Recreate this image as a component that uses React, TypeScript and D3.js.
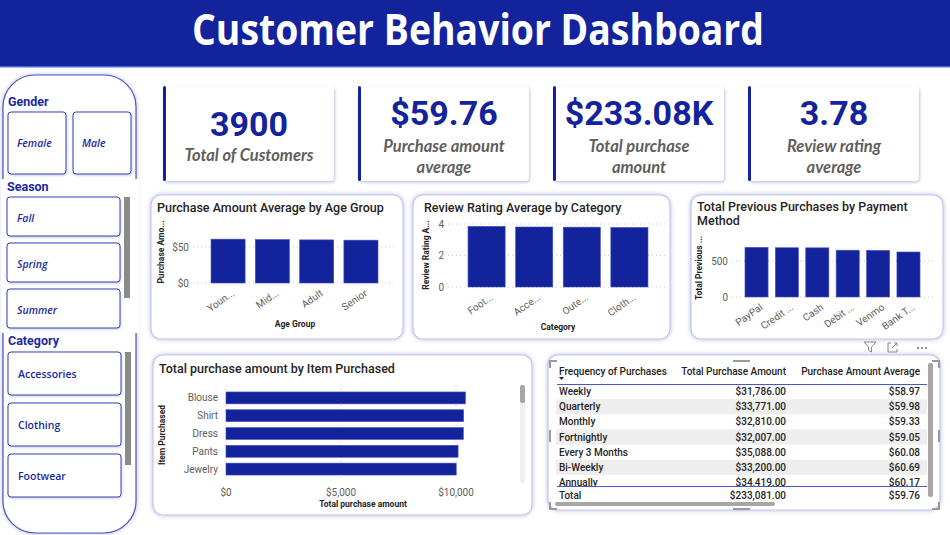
import React from "react";
import * as d3 from "d3";

const W = 950;
const H = 535;
const BLUE = "#13239c";
const SLICER_BLUE = "#1b2a9f";
const TEXT = "#252423";
const GREY = "#605e5c";
const DIN = "Roboto, 'DejaVu Sans', sans-serif";

// KPI cards
const kpiValues = [3900, 59.76, 233081, 3.78];
const kpiLabels = [
  ["Total of Customers"],
  ["Purchase amount", "average"],
  ["Total purchase", "amount"],
  ["Review rating", "average"],
];

// slicers
const genders = ["Female", "Male"];
const seasons = ["Fall", "Spring", "Summer"];
const categories = ["Accessories", "Clothing", "Footwear"];

// purchase amount average by age group
const ageGroups = ["Young Adult", "Middle-aged", "Adult", "Senior"];
const ageTickLabels = ["Youn...", "Mid...", "Adult", "Senior"];
const ageAvg = [60.9, 60.4, 59.9, 59.5];

// review rating average by category
const ratingCats = ["Footwear", "Accessories", "Outerwear", "Clothing"];
const ratingTickLabels = ["Foot...", "Acce...", "Oute...", "Cloth..."];
const ratingAvg = [3.85, 3.81, 3.8, 3.78];

// previous purchases by payment method
const payMethods = ["PayPal", "Credit Card", "Cash", "Debit Card", "Venmo", "Bank Transfer"];
const payTickLabels = ["PayPal", "Credit ...", "Cash", "Debit ...", "Venmo", "Bank T..."];
const payPrev = [690, 684, 683, 650, 648, 625];

// purchase amount by item
const items = ["Blouse", "Shirt", "Dress", "Pants", "Jewelry"];
const itemTotals = [10410, 10332, 10320, 10090, 10010];

// frequency table
const freqLabels = ["Weekly", "Quarterly", "Monthly", "Fortnightly", "Every 3 Months", "Bi-Weekly", "Annually"];
const freqTotal = [31786, 33771, 32810, 32007, 35088, 33200, 34419];
const freqAvg = [58.97, 59.98, 59.33, 59.05, 60.08, 60.69, 60.17];
const freqGrandTotal = 233081;
const freqGrandAvg = 59.76;

const money2 = d3.format("$,.2f");

function kpiText(i: number) {
  const v = kpiValues[i];
  if (i === 0) return String(v);
  if (i === 1) return "$" + v.toFixed(2);
  if (i === 2) return "$" + (v / 1000).toFixed(2) + "K";
  return v.toFixed(2);
}

function Panel({ x, y, w, h }: { x: number; y: number; w: number; h: number }) {
  return (
    <rect x={x} y={y} width={w} height={h} rx={10} fill="#fff" stroke="#c3c6ec" strokeWidth={1.2} filter="url(#glow)" />
  );
}

function VBarChart({
  title,
  titleLines,
  cats,
  labels,
  values,
  x,
  y,
  ticks,
  fmt,
  yTitle,
  yTitleX,
  yTitleY,
  xTitle,
  xTitleX,
  xTitleY,
  gridX0,
  gridX1,
  labelY,
}: any) {
  return (
    <g>
      {titleLines.map((t: string, i: number) => (
        <text key={t} x={title.x} y={title.y + i * 14} fontFamily={DIN} fontWeight={500} fontSize={12.5} fill={TEXT}>
          {t}
        </text>
      ))}
      {ticks.map((t: number) => (
        <g key={t}>
          <line x1={gridX0} x2={gridX1} y1={y(t)} y2={y(t)} stroke="#c8c6c4" strokeDasharray="1 3" />
          <text x={gridX0 - 4} y={y(t)} dy="0.35em" textAnchor="end" fontFamily={DIN} fontSize={10} fill={GREY}>
            {fmt(t)}
          </text>
        </g>
      ))}
      {cats.map((c: string, i: number) => (
        <rect key={c} x={x(c)} y={y(values[i])} width={x.bandwidth()} height={y(0) - y(values[i])} fill={BLUE} stroke="#4452c0" strokeWidth={0.6} />
      ))}
      {cats.map((c: string, i: number) => (
        <text
          key={c + "l"}
          transform={`translate(${x(c) + x.bandwidth() / 2 + 3},${labelY}) rotate(-35)`}
          dy="0.7em"
          textAnchor="end"
          fontFamily={DIN}
          fontSize={10}
          fill={GREY}
        >
          {labels[i]}
        </text>
      ))}
      <text transform={`translate(${yTitleX},${yTitleY}) rotate(-90)`} textAnchor="middle" fontFamily={DIN} fontWeight={700} fontSize={8.5} fill={TEXT}>
        {yTitle}
      </text>
      {xTitle && (
        <text x={xTitleX} y={xTitleY} textAnchor="middle" fontFamily={DIN} fontWeight={700} fontSize={8.5} fill={TEXT}>
          {xTitle}
        </text>
      )}
    </g>
  );
}

export default function App() {
  const xAge = d3.scaleBand().domain(ageGroups).range([205.7, 383.3]).paddingInner(0.23).paddingOuter(0.12);
  const yAge = d3.scaleLinear().domain([0, 50]).range([283, 247]);

  const xRate = d3.scaleBand().domain(ratingCats).range([458.5, 657.5]).paddingInner(0.22).paddingOuter(0.2);
  const yRate = d3.scaleLinear().domain([0, 4]).range([287, 224]);

  const xPay = d3.scaleBand().domain(payMethods).range([738.9, 926.1]).paddingInner(0.24).paddingOuter(0.2);
  const yPay = d3.scaleLinear().domain([0, 500]).range([297, 261]);

  const yItem = d3.scaleBand().domain(items).range([388.4, 478.6]).paddingInner(0.33).paddingOuter(0.2);
  const xItem = d3.scaleLinear().domain([0, 10000]).range([226, 456]);
  const itemTicks = [0, 5000, 10000];

  const rowY = d3.scaleBand().domain(freqLabels).range([384, 490]);
  const rowMid = (f: string) => (rowY(f) as number) + rowY.bandwidth() / 2;

  const cardX = [163, 358, 553, 748];

  return (
    <div style={{ position: "fixed", left: 0, top: 0 }}>
      <svg width={W} height={H} style={{ display: "block", background: "#fff" }}>
        <defs>
          <filter id="glow" x="-10%" y="-10%" width="120%" height="120%">
            <feDropShadow dx={0} dy={0} stdDeviation={2} floodColor="#5c63c8" floodOpacity={0.45} />
          </filter>
          <filter id="cardShadow" x="-10%" y="-10%" width="120%" height="130%">
            <feDropShadow dx={1} dy={1.5} stdDeviation={1.5} floodColor="#7078c0" floodOpacity={0.45} />
          </filter>
          <filter id="boxShadow" x="-10%" y="-10%" width="120%" height="130%">
            <feDropShadow dx={0.5} dy={1} stdDeviation={0.8} floodColor="#7078c0" floodOpacity={0.4} />
          </filter>
          <clipPath id="tableBody">
            <rect x={550} y={384} width={380} height={102} />
          </clipPath>
        </defs>

        {/* header band */}
        <rect x={0} y={0} width={W} height={66} fill={BLUE} />
        <rect x={0} y={66} width={W} height={1.5} fill="#4a6ad8" />
        <text
          x={478}
          y={45}
          textAnchor="middle"
          fontFamily="'Open Sans', sans-serif"
          fontWeight={700}
          fontSize={43}
          textLength={572}
          lengthAdjust="spacingAndGlyphs"
          fill="#fff"
        >
          Customer Behavior Dashboard
        </text>

        {/* slicer column */}
        <rect x={3} y={75} width={133} height={458} rx={32} fill="#fff" stroke="#4a52c8" strokeWidth={1.2} filter="url(#glow)" />
        <rect x={1} y={179} width={138} height={154} fill="#fff" />
        <text x={8} y={106} fontFamily={DIN} fontWeight={700} fontSize={12.5} fill={SLICER_BLUE}>
          Gender
        </text>
        {genders.map((g, i) => (
          <g key={g}>
            <rect x={8 + i * 65} y={112} width={58} height={62} rx={3} fill="#fff" stroke="#3442b4" strokeWidth={1} filter="url(#boxShadow)" />
            <text x={17 + i * 65} y={147} fontFamily="'Open Sans', sans-serif" fontStyle="italic" fontWeight={600} fontSize={10.5} fill={SLICER_BLUE}>
              {g}
            </text>
          </g>
        ))}
        <text x={7} y={191} fontFamily={DIN} fontWeight={700} fontSize={12.5} fill={SLICER_BLUE}>
          Season
        </text>
        {seasons.map((s, i) => (
          <g key={s}>
            <rect x={7} y={197 + i * 46} width={113} height={39} rx={3} fill="#fff" stroke="#3442b4" strokeWidth={1} filter="url(#boxShadow)" />
            <text x={17} y={222 + i * 46} fontFamily="'Open Sans', sans-serif" fontStyle="italic" fontWeight={600} fontSize={10.5} fill={SLICER_BLUE}>
              {s}
            </text>
          </g>
        ))}
        <rect x={124} y={197} width={6} height={101} fill="#8a8a8a" />
        <text x={8} y={345} fontFamily={DIN} fontWeight={700} fontSize={12.5} fill={SLICER_BLUE}>
          Category
        </text>
        {categories.map((c, i) => (
          <g key={c}>
            <rect x={8} y={352 + i * 51} width={113} height={43} rx={3} fill="#fff" stroke="#3442b4" strokeWidth={1} filter="url(#boxShadow)" />
            <text x={18} y={378 + i * 51} fontFamily="'Open Sans', sans-serif" fontWeight={600} fontSize={10.5} fill={SLICER_BLUE}>
              {c}
            </text>
          </g>
        ))}
        <rect x={125} y={352} width={6} height={113} fill="#8a8a8a" />

        {/* KPI cards */}
        {cardX.map((cx, i) => {
          const two = kpiLabels[i].length > 1;
          const mid = cx + 86;
          return (
            <g key={i}>
              <rect x={cx} y={86} width={171} height={95} rx={4} fill="#fff" filter="url(#cardShadow)" />
              <rect x={cx} y={86} width={3} height={95} rx={1.5} fill={BLUE} />
              <text x={mid} y={two ? 125 : 136} textAnchor="middle" fontFamily={DIN} fontWeight={700} fontSize={34} fill={BLUE}>
                {kpiText(i)}
              </text>
              {kpiLabels[i].map((l, j) => (
                <text
                  key={l}
                  x={mid}
                  y={(two ? 152 : 161) + j * 21}
                  textAnchor="middle"
                  fontFamily="Lato, sans-serif"
                  fontStyle="italic"
                  fontWeight={700}
                  fontSize={16.5}
                  fill={GREY}
                >
                  {l}
                </text>
              ))}
            </g>
          );
        })}

        {/* column charts */}
        <Panel x={151} y={195} w={252} h={144} />
        <VBarChart
          title={{ x: 157, y: 212 }}
          titleLines={["Purchase Amount Average by Age Group"]}
          cats={ageGroups}
          labels={ageTickLabels}
          values={ageAvg}
          x={xAge}
          y={yAge}
          ticks={[0, 50]}
          fmt={(t: number) => "$" + t}
          yTitle="Purchase Amo..."
          yTitleX={164}
          yTitleY={252}
          xTitle="Age Group"
          xTitleX={295}
          xTitleY={327}
          gridX0={193}
          gridX1={397}
          labelY={289}
        />

        <Panel x={413} y={195} w={257} h={144} />
        <VBarChart
          title={{ x: 424, y: 212 }}
          titleLines={["Review Rating Average by Category"]}
          cats={ratingCats}
          labels={ratingTickLabels}
          values={ratingAvg}
          x={xRate}
          y={yRate}
          ticks={[0, 2, 4]}
          fmt={(t: number) => String(t)}
          yTitle="Review Rating A..."
          yTitleX={429}
          yTitleY={255}
          xTitle="Category"
          xTitleX={558}
          xTitleY={330}
          gridX0={448}
          gridX1={668}
          labelY={293}
        />

        <Panel x={691} y={195} w={252} h={144} />
        <VBarChart
          title={{ x: 697, y: 211 }}
          titleLines={["Total Previous Purchases by Payment", "Method"]}
          cats={payMethods}
          labels={payTickLabels}
          values={payPrev}
          x={xPay}
          y={yPay}
          ticks={[0, 500]}
          fmt={(t: number) => String(t)}
          yTitle="Total Previous ..."
          yTitleX={702}
          yTitleY={268}
          xTitle={null}
          gridX0={732}
          gridX1={933}
          labelY={303}
        />

        {/* bar chart by item */}
        <Panel x={153} y={355} w={379} h={160} />
        <text x={159} y={373} fontFamily={DIN} fontWeight={500} fontSize={12.5} fill={TEXT}>
          Total purchase amount by Item Purchased
        </text>
        {itemTicks.map((t) => (
          <g key={t}>
            <line x1={xItem(t)} x2={xItem(t)} y1={385} y2={479} stroke="#c8c6c4" strokeDasharray="1 3" />
            <text x={xItem(t)} y={496} textAnchor="middle" fontFamily={DIN} fontSize={10} fill={GREY}>
              {d3.format("$,")(t)}
            </text>
          </g>
        ))}
        {items.map((it, i) => (
          <g key={it}>
            <rect x={xItem(0)} y={yItem(it)} width={xItem(itemTotals[i]) - xItem(0)} height={yItem.bandwidth()} fill={BLUE} stroke="#4452c0" strokeWidth={0.6} />
            <text x={218} y={(yItem(it) as number) + yItem.bandwidth() / 2} dy="0.35em" textAnchor="end" fontFamily={DIN} fontSize={10} fill={GREY}>
              {it}
            </text>
          </g>
        ))}
        <text x={363} y={507} textAnchor="middle" fontFamily={DIN} fontWeight={700} fontSize={8.5} fill={TEXT}>
          Total purchase amount
        </text>
        <text transform="translate(165,435) rotate(-90)" textAnchor="middle" fontFamily={DIN} fontWeight={700} fontSize={8.5} fill={TEXT}>
          Item Purchased
        </text>
        <rect x={520} y={385} width={5} height={98} rx={2} fill="#f0f0f0" />
        <rect x={520} y={385} width={5} height={18} rx={2} fill="#a6a6a6" />

        {/* frequency table */}
        <Panel x={548} y={355} w={392} h={155} />
        <path d="M864,342 h12 l-4.5,5 v5 l-3,-1.5 v-3.5 z" fill="none" stroke="#8a8886" strokeWidth={1} />
        <path d="M891,343 h-3 v9 h9 v-3 M894,343 h3 v3 M897,343 l-5,5" fill="none" stroke="#8a8886" strokeWidth={1} />
        {[918, 922, 926].map((dx) => (
          <circle key={dx} cx={dx} cy={348} r={0.9} fill={GREY} />
        ))}
        {freqLabels.map((f, i) =>
          i % 2 === 1 ? (
            <rect key={f} x={556} y={rowY(f)} width={371} height={rowY.bandwidth()} fill="#eeeeee" clipPath="url(#tableBody)" />
          ) : null
        )}
        <g fontFamily={DIN} fontWeight={500} fontSize={10} fill={TEXT}>
          <text x={559} y={375}>Frequency of Purchases</text>
          <text x={786} y={375} textAnchor="end">Total Purchase Amount</text>
          <text x={920} y={375} textAnchor="end">Purchase Amount Average</text>
          <g clipPath="url(#tableBody)">
            {freqLabels.map((f, i) => (
              <g key={f}>
                <text x={559} y={rowMid(f)} dy="0.35em">
                  {f}
                </text>
                <text x={786} y={rowMid(f)} dy="0.35em" textAnchor="end">
                  {money2(freqTotal[i])}
                </text>
                <text x={920} y={rowMid(f)} dy="0.35em" textAnchor="end">
                  {money2(freqAvg[i])}
                </text>
              </g>
            ))}
          </g>
          <text x={559} y={499}>Total</text>
          <text x={786} y={499} textAnchor="end">{money2(freqGrandTotal)}</text>
          <text x={920} y={499} textAnchor="end">{money2(freqGrandAvg)}</text>
        </g>
        <path d="M559,377 h5 l-2.5,3 z" fill={TEXT} />
        <line x1={557} x2={927} y1={384.5} y2={384.5} stroke="#4b58c4" strokeWidth={1} />
        <line x1={557} x2={927} y1={486.5} y2={486.5} stroke="#4b58c4" strokeWidth={1} />
        <rect x={555} y={502} width={220} height={4} rx={2} fill="#a6a6a6" />
        <rect x={928} y={363} width={5} height={134} rx={2} fill="#a6a6a6" />
        <g stroke="#9a9a9a" strokeWidth={2} fill="none">
          <path d="M550,368 V361 H557" />
          <path d="M932,361 H939 V368" />
          <path d="M550,502 V509 H557" />
          <path d="M932,509 H939 V502" />
          <path d="M733,361 H750" />
          <path d="M733,509 H750" />
          <path d="M550,430 V442" />
          <path d="M939,430 V442" />
        </g>
      </svg>
    </div>
  );
}
